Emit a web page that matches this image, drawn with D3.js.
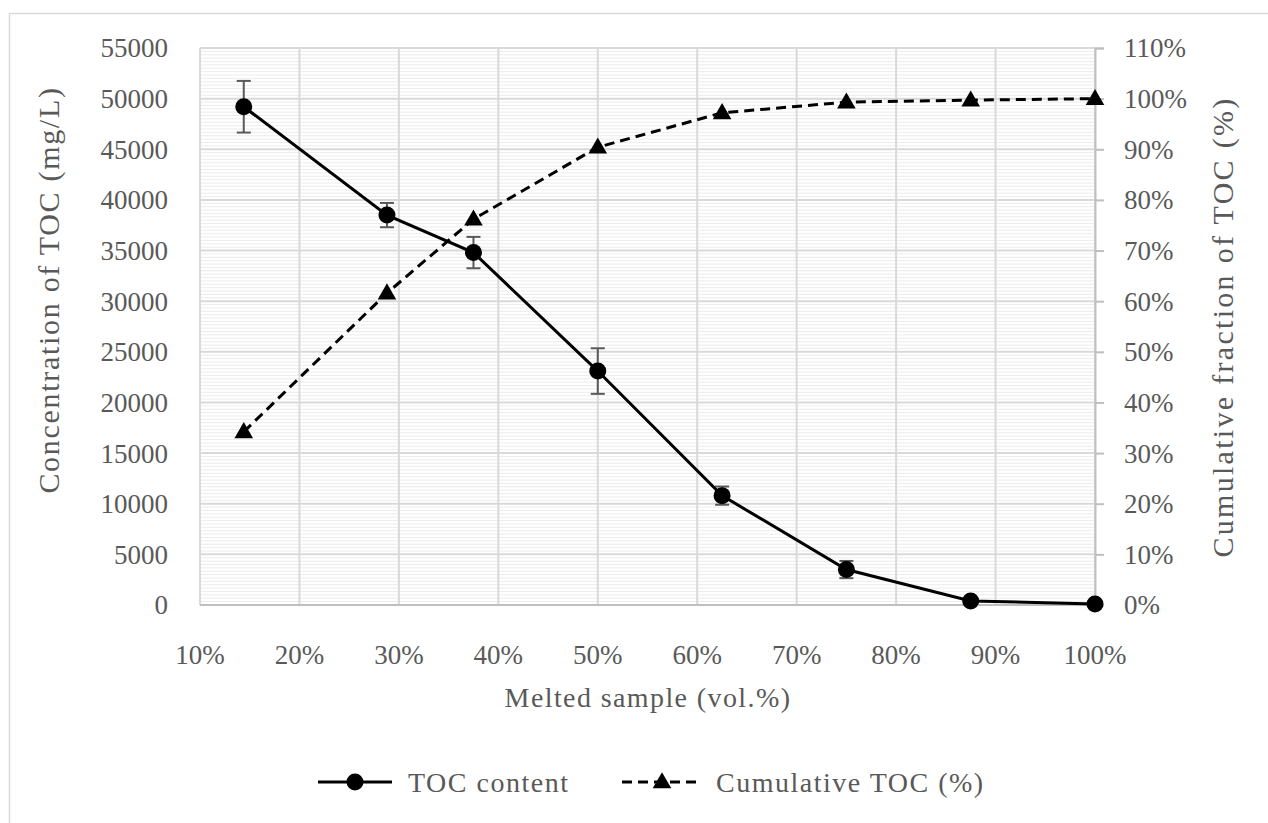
<!DOCTYPE html>
<html>
<head>
<meta charset="utf-8">
<script src="https://cdn.jsdelivr.net/npm/d3@7"></script>
<style>
  html, body { margin: 0; padding: 0; background: #fff; }
  svg { display: block; }
  text { font-family: "Liberation Serif", "DejaVu Serif", serif; fill: #595959; }
</style>
</head>
<body>
<svg id="chart" width="1268" height="823"></svg>
<script>
// Melted sample fraction (vol.%)
const meltedPct = [14.4, 28.8, 37.5, 50, 62.5, 75, 87.5, 100];
// TOC concentration (mg/L) and its standard deviation
const tocContent = [49200, 38500, 34800, 23100, 10800, 3500, 400, 100];
const tocError   = [2550, 1200, 1550, 2250, 900, 850, 0, 0];
// Cumulative fraction of TOC (%)
const cumulativeToc = [34.2, 61.6, 76.2, 90.4, 97.2, 99.3, 99.7, 100];

const xTicks = [10, 20, 30, 40, 50, 60, 70, 80, 90, 100];
const yLeftTicks = d3.range(0, 55001, 5000);
const yRightTicks = d3.range(0, 111, 10);

const svg = d3.select("#chart");
const plot = { left: 200, right: 1095, top: 48, bottom: 605 };

const x = d3.scaleLinear().domain([10, 100]).range([plot.left, plot.right]);
const yL = d3.scaleLinear().domain([0, 55000]).range([plot.bottom, plot.top]);
const yR = d3.scaleLinear().domain([0, 110]).range([plot.bottom, plot.top]);

// chart area frame
svg.append("rect")
  .attr("x", 9.5).attr("y", 13.5)
  .attr("width", 1300).attr("height", 900)
  .attr("fill", "none").attr("stroke", "#d9d9d9").attr("stroke-width", 1.5);

// minor horizontal gridlines
const minorTicks = d3.range(0, 55000, 5000 / 15).filter(v => v % 5000 > 1e-6 && 5000 - (v % 5000) > 1e-6);
svg.append("g").selectAll("line").data(minorTicks).join("line")
  .attr("x1", plot.left).attr("x2", plot.right)
  .attr("y1", d => yL(d)).attr("y2", d => yL(d))
  .attr("stroke", "#ececec").attr("stroke-width", 1);

// major gridlines
svg.append("g").selectAll("line").data(yLeftTicks.filter(d => d > 0)).join("line")
  .attr("x1", plot.left).attr("x2", plot.right)
  .attr("y1", d => yL(d)).attr("y2", d => yL(d))
  .attr("stroke", "#d9d9d9").attr("stroke-width", 2);
svg.append("g").selectAll("line").data(xTicks).join("line")
  .attr("x1", d => x(d)).attr("x2", d => x(d))
  .attr("y1", plot.top).attr("y2", plot.bottom)
  .attr("stroke", "#d9d9d9").attr("stroke-width", 2);

// bottom axis line
svg.append("line")
  .attr("x1", plot.left).attr("x2", plot.right)
  .attr("y1", plot.bottom).attr("y2", plot.bottom)
  .attr("stroke", "#bfbfbf").attr("stroke-width", 2);

// right axis line with outward ticks
const rightAxis = d3.axisRight(yR).tickValues(yRightTicks).tickSize(9).tickFormat("");
const gR = svg.append("g").attr("transform", `translate(${plot.right},0)`).call(rightAxis);
gR.selectAll("path, line").attr("stroke", "#bfbfbf").attr("stroke-width", 2);

// tick labels
const fs = 27;
svg.append("g").selectAll("text").data(yLeftTicks).join("text")
  .attr("x", 168).attr("y", d => yL(d)).attr("dy", "0.35em")
  .attr("text-anchor", "end").attr("font-size", fs)
  .text(d => d);
svg.append("g").selectAll("text").data(yRightTicks).join("text")
  .attr("x", 1124).attr("y", d => yR(d)).attr("dy", "0.35em")
  .attr("text-anchor", "start").attr("font-size", fs)
  .text(d => d + "%");
svg.append("g").selectAll("text").data(xTicks).join("text")
  .attr("x", d => x(d)).attr("y", 655).attr("dy", "0.35em")
  .attr("text-anchor", "middle").attr("font-size", fs)
  .text(d => d + "%");

// axis titles
svg.append("text")
  .attr("x", 648).attr("y", 697).attr("dy", "0.35em")
  .attr("text-anchor", "middle").attr("font-size", 28).attr("letter-spacing", 1.4)
  .text("Melted sample (vol.%)");
svg.append("text")
  .attr("transform", "translate(48,290) rotate(-90)")
  .attr("dy", "0.35em").attr("text-anchor", "middle")
  .attr("font-size", 30).attr("letter-spacing", 1.7)
  .text("Concentration of TOC (mg/L)");
svg.append("text")
  .attr("transform", "translate(1222,327) rotate(-90)")
  .attr("dy", "0.35em").attr("text-anchor", "middle")
  .attr("font-size", 30).attr("letter-spacing", 2.3)
  .text("Cumulative fraction of TOC (%)");

// cumulative TOC series (dashed, triangles)
const lineR = d3.line().x((d, i) => x(meltedPct[i])).y(d => yR(d));
svg.append("path").datum(cumulativeToc)
  .attr("d", lineR).attr("fill", "none")
  .attr("stroke", "#000").attr("stroke-width", 3).attr("stroke-dasharray", "10,6");
const tri = d3.symbol().type(d3.symbolTriangle).size(150);
svg.append("g").selectAll("path").data(cumulativeToc).join("path")
  .attr("transform", (d, i) => `translate(${x(meltedPct[i])},${yR(d) + 1})`)
  .attr("d", tri).attr("fill", "#000");

// TOC content error bars
const errG = svg.append("g").attr("stroke", "#595959").attr("stroke-width", 2);
tocContent.forEach((v, i) => {
  const e = tocError[i];
  if (!e) return;
  const cx = x(meltedPct[i]);
  errG.append("line").attr("x1", cx).attr("x2", cx).attr("y1", yL(v + e)).attr("y2", yL(v - e));
  errG.append("line").attr("x1", cx - 7).attr("x2", cx + 7).attr("y1", yL(v + e)).attr("y2", yL(v + e));
  errG.append("line").attr("x1", cx - 7).attr("x2", cx + 7).attr("y1", yL(v - e)).attr("y2", yL(v - e));
});

// TOC content series (solid, circles)
const lineL = d3.line().x((d, i) => x(meltedPct[i])).y(d => yL(d));
svg.append("path").datum(tocContent)
  .attr("d", lineL).attr("fill", "none")
  .attr("stroke", "#000").attr("stroke-width", 3);
svg.append("g").selectAll("circle").data(tocContent).join("circle")
  .attr("cx", (d, i) => x(meltedPct[i])).attr("cy", d => yL(d))
  .attr("r", 8.5).attr("fill", "#000");

// legend
const lg = svg.append("g");
lg.append("line").attr("x1", 318).attr("x2", 392).attr("y1", 782).attr("y2", 782)
  .attr("stroke", "#000").attr("stroke-width", 3);
lg.append("circle").attr("cx", 355).attr("cy", 782).attr("r", 8.5).attr("fill", "#000");
lg.append("text").attr("x", 408).attr("y", 782).attr("dy", "0.35em")
  .attr("font-size", 28).attr("letter-spacing", 1.5)
  .text("TOC content");
lg.append("line").attr("x1", 622).attr("x2", 702).attr("y1", 782).attr("y2", 782)
  .attr("stroke", "#000").attr("stroke-width", 3).attr("stroke-dasharray", "10,6");
lg.append("path").attr("transform", "translate(662,783)").attr("d", tri).attr("fill", "#000");
lg.append("text").attr("x", 716).attr("y", 782).attr("dy", "0.35em")
  .attr("font-size", 28).attr("letter-spacing", 1.5)
  .text("Cumulative TOC (%)");
</script>
</body>
</html>
